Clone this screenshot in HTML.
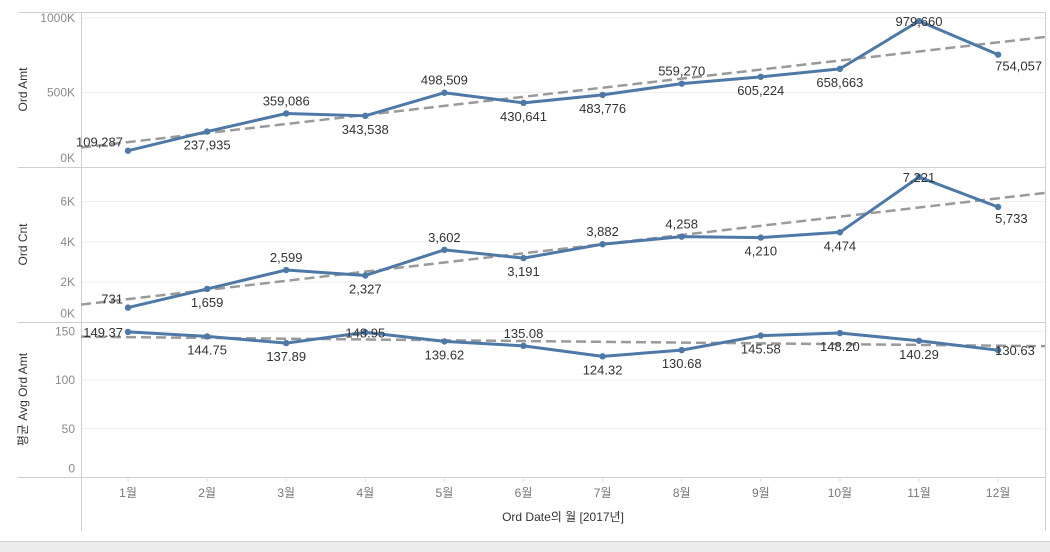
<!DOCTYPE html>
<html><head><meta charset="utf-8">
<style>
html,body{margin:0;padding:0;background:#fff;}
svg{display:block;font-family:"Liberation Sans","Noto Sans CJK KR",sans-serif;}
</style></head>
<body>
<svg id="chart" width="1050" height="552" viewBox="0 0 1050 552" xmlns="http://www.w3.org/2000/svg">
<rect x="0" y="0" width="1050" height="552" fill="#fff"/>
<rect x="0" y="542" width="1050" height="10" fill="#ececec"/>
<line x1="0" y1="541.5" x2="1050" y2="541.5" stroke="#cfcfcf"/>
<g id="grid"></g>
<g id="frame"></g>
<g id="marks"></g>
<g id="labels"></g>
</svg>
<script>
const months = ['1월','2월','3월','4월','5월','6월','7월','8월','9월','10월','11월','12월'];
const ordAmt = [109287,237935,359086,343538,498509,430641,483776,559270,605224,658663,979660,754057];
const ordCnt = [731,1659,2599,2327,3602,3191,3882,4258,4210,4474,7221,5733];
const avgAmt = [149.37,144.75,137.89,148.95,139.62,135.08,124.32,130.68,145.58,148.20,140.29,130.63];
const amtTicks = [0,500000,1000000];
const amtTickLabels = ['0K','500K','1000K'];
const cntTicks = [0,2000,4000,6000];
const cntTickLabels = ['0K','2K','4K','6K'];
const avgTicks = [0,50,100,150];
const avgTickLabels = ['0','50','100','150'];
const amtLabelSide = ['L','B','A','B','A','B','B','A','B','B','P','R'];
const cntLabelSide = ['L','B','A','B','A','B','A','A','B','B','P','R'];
const avgLabelSide = ['L','B','B','P','B','A','B','B','B','B','B','R'];

const NS='http://www.w3.org/2000/svg';
const X0=81, X1=1045;
function xPos(i){return 128 + i*79.1;}
function mk(tag,attrs,parent){const e=document.createElementNS(NS,tag);for(const k in attrs)e.setAttribute(k,attrs[k]);document.getElementById(parent).appendChild(e);return e;}

const panels=[
 {name:'ord-amt',title:'Ord Amt',data:ordAmt,ticks:amtTicks,tl:amtTickLabels,side:amtLabelSide,top:12,bot:167,y0:167,max:1000000,yMax:18,fmt:v=>v.toLocaleString('en-US')},
 {name:'ord-cnt',title:'Ord Cnt',data:ordCnt,ticks:cntTicks,tl:cntTickLabels,side:cntLabelSide,top:167,bot:322,y0:322.3,max:6000,yMax:201.6,fmt:v=>v.toLocaleString('en-US')},
 {name:'avg-ord-amt',title:'평균 Avg Ord Amt',data:avgAmt,ticks:avgTicks,tl:avgTickLabels,side:avgLabelSide,top:322,bot:477,y0:477.5,max:150,yMax:331.3,fmt:v=>v.toFixed(2)}
];

panels.forEach(p=>{
  const y=v=>p.y0-(v/p.max)*(p.y0-p.yMax);
  p.ticks.forEach((t,k)=>{
    const gy=y(t);
    if(t!==0){
      const g=mk('line',{x1:X0,y1:gy,x2:X1,y2:gy,stroke:'#efefef'},'grid');
      
      
    }
    const ty = t===0 ? gy-5 : gy+4;
    const tx=mk('text',{x:75,y:ty,'text-anchor':'end','font-size':12,fill:'#8a8a8a'},'labels');
    tx.textContent=p.tl[k];
    
    
  });
  const sep=mk('line',{x1:18,y1:p.bot+0.5,x2:X1,y2:p.bot+0.5,stroke:'#cfcfcf'},'frame');
  
  
  const cy=(p.top+p.bot)/2;
  const at=mk('text',{x:0,y:0,'text-anchor':'middle','font-size':12,fill:'#333',transform:`translate(27,${cy}) rotate(-90)`},'labels');
  at.textContent=p.title;
  
  
  const n=p.data.length;let mx=(n-1)/2,my=p.data.reduce((a,b)=>a+b,0)/n,sxy=0,sxx=0;
  p.data.forEach((v,i)=>{sxy+=(i-mx)*(v-my);sxx+=(i-mx)*(i-mx);});
  const sl=sxy/sxx;const fi=x=>(x-128)/79.1;const tv=x=>my+sl*(fi(x)-mx);
  const tr=mk('line',{x1:X0,y1:y(tv(X0)),x2:X1,y2:y(tv(X1)),stroke:'#9a9a9a','stroke-width':2.5,'stroke-dasharray':'10,5'},'marks');
  
  
  const pts=p.data.map((v,i)=>xPos(i)+','+y(v)).join(' ');
  const pl=mk('polyline',{points:pts,fill:'none',stroke:'#4e79a7','stroke-width':3,'stroke-linejoin':'round'},'marks');
  
  
  p.data.forEach((v,i)=>{
    const px=xPos(i),py=y(v);
    const c=mk('circle',{cx:px,cy:py,r:3.2,fill:'#4e79a7'},'marks');
    
    
    const s=p.side[i];let lx=px,ly,anc='middle';
    if(s==='A')ly=py-8;else if(s==='B')ly=py+18;else if(s==='P')ly=py+5;
    else if(s==='L'){lx=px-5;ly=py-4;anc='end';if(p.name==='avg-ord-amt')ly=py+5;}
    else {lx=px-3;ly=py+16;anc='start';if(p.name==='avg-ord-amt')ly=py+5;}
    const t=mk('text',{x:lx,y:ly,'text-anchor':anc,'font-size':13,fill:'#333'},'labels');
    t.textContent=p.fmt(v);
    
    
  });
});
[['left-axis-line',X0+0.5,12,X0+0.5,531],['right-border',X1+0.5,12,X1+0.5,531],['top-border',18,12.5,X1,12.5]].forEach(a=>{
  const l=mk('line',{x1:a[1],y1:a[2],x2:a[3],y2:a[4],stroke:'#cfcfcf'},'frame');
  
  
});
months.forEach((m,i)=>{
  const px=xPos(i);
  const tk=mk('line',{x1:px,y1:477,x2:px,y2:482,stroke:'#dcdcdc'},'frame');
  
  
  const t=mk('text',{x:px,y:497,'text-anchor':'middle','font-size':12,fill:'#777'},'labels');
  t.textContent=m;
  
  
});
const xt=mk('text',{x:563,y:521,'text-anchor':'middle','font-size':12,fill:'#333'},'labels');
xt.textContent='Ord Date의 월 [2017년]';


</script>
</body></html>
